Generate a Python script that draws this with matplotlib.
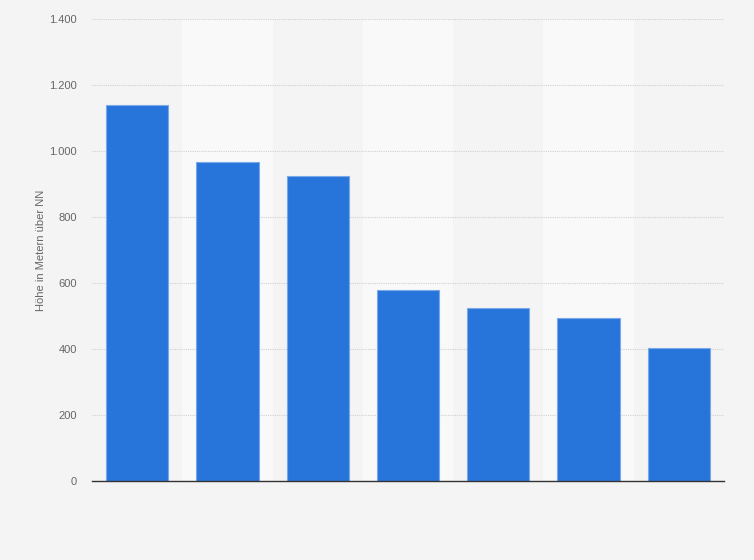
import numpy as np
import matplotlib.pyplot as plt
from matplotlib.ticker import FuncFormatter

plt.rcParams['font.family'] = ['Liberation Sans', 'DejaVu Sans']

# Höhe in Metern über NN
positions = np.arange(7)
heights = [1140, 968, 925, 579, 524, 494, 403]
yticks = [0, 200, 400, 600, 800, 1000, 1200, 1400]

fig = plt.figure(figsize=(7.54, 5.6), dpi=100, facecolor='#f4f4f4')
ax = fig.add_axes([92 / 754, 1 - 481 / 560, 632 / 754, 462 / 560])
ax.set_facecolor('#f4f4f4')

# alternating column stripes
for i in positions:
    if i % 2 == 1:
        ax.axvspan(i - 0.5, i + 0.5, color='#f9f9f9', zorder=0, lw=0)

ax.bar(positions, heights, width=0.69, color='#2775db',
       edgecolor='#7aa9ea', linewidth=0.8, zorder=3)

ax.set_xlim(-0.5, 6.5)
ax.set_ylim(0, 1400)
ax.set_yticks(yticks)
ax.yaxis.set_major_formatter(FuncFormatter(lambda v, p: f"{int(v):,}".replace(",", ".")))
ax.set_xticks([])
ax.grid(axis='y', color='#d0d0d0', linestyle=(0, (1, 1)), linewidth=0.8, zorder=1)
ax.tick_params(axis='y', length=0, pad=11, labelsize=8, labelcolor='#666666')

for s in ['top', 'right', 'left']:
    ax.spines[s].set_visible(False)
ax.spines['bottom'].set_color('#333333')
ax.spines['bottom'].set_linewidth(1.0)
ax.spines['bottom'].set_zorder(4)

ax.set_ylabel("Höhe in Metern über NN", fontsize=8, color='#666666')
ax.yaxis.set_label_coords(-46 / 632, 0.5)

plt.savefig("out.png", dpi=100, facecolor=fig.get_facecolor())
